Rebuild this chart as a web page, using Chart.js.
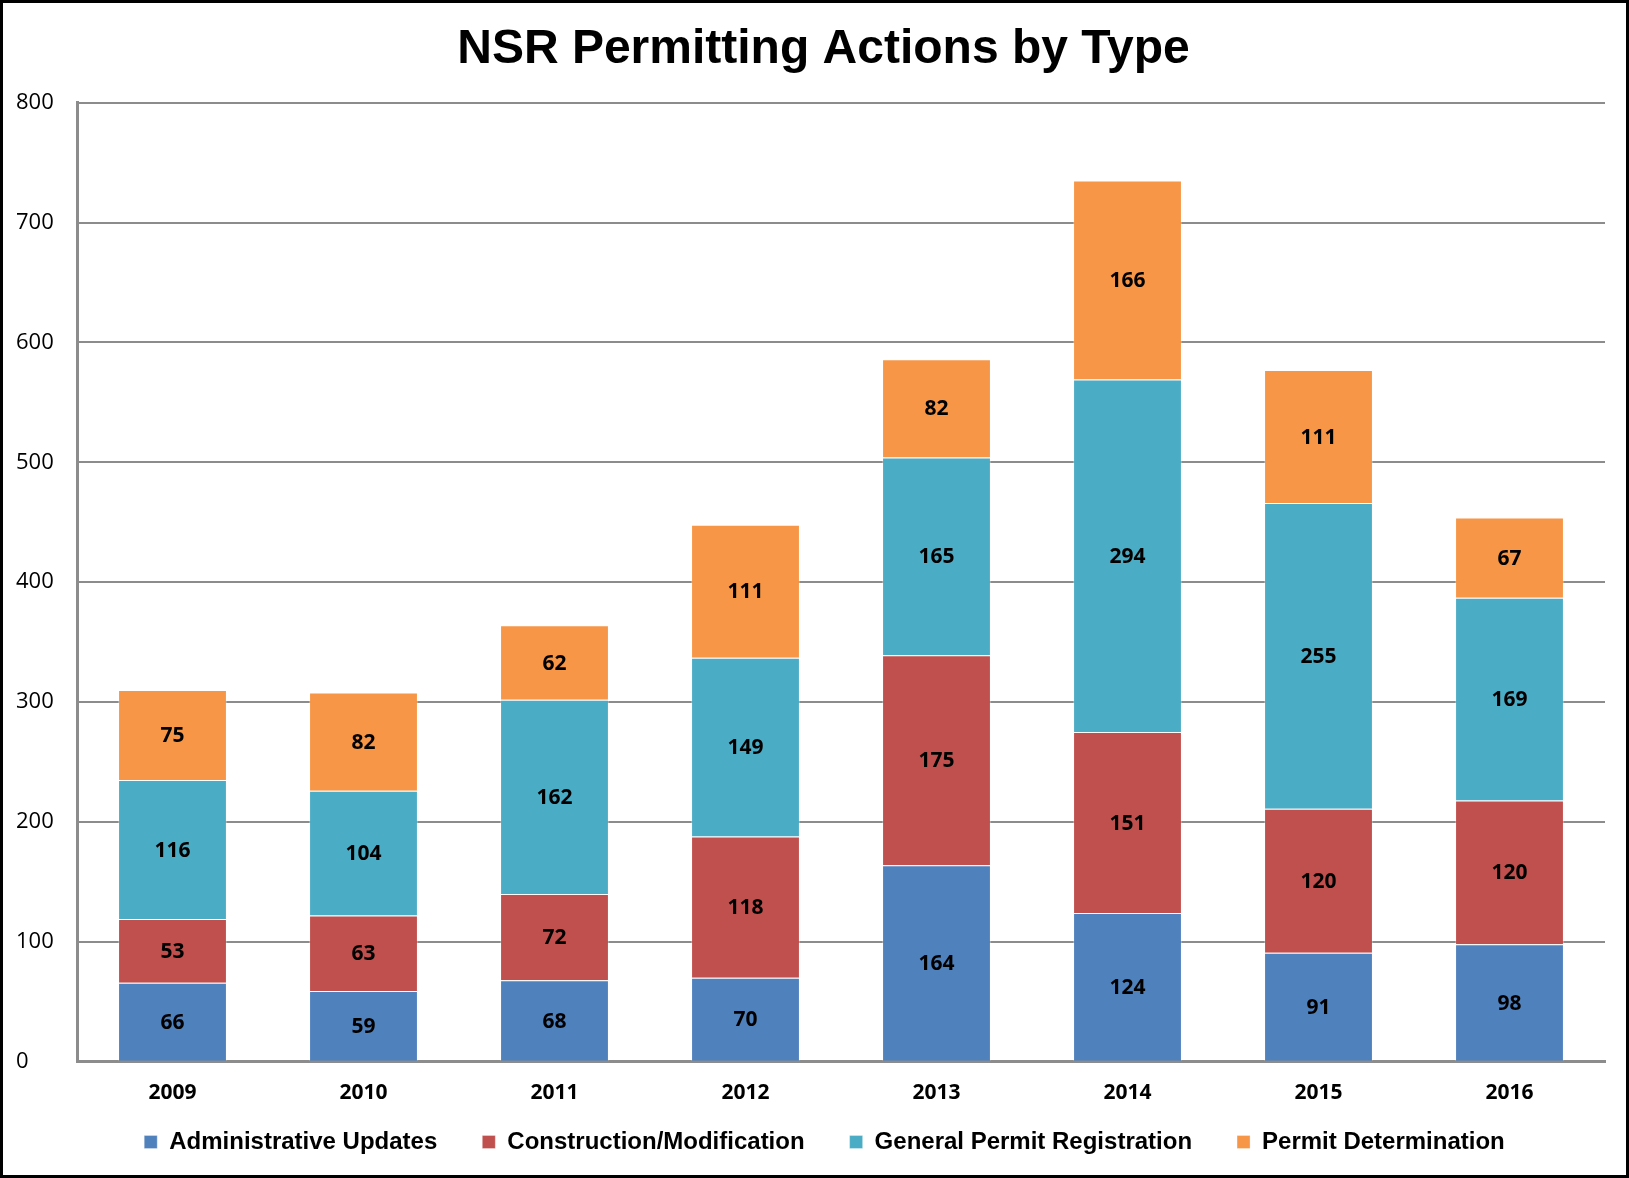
<!DOCTYPE html>
<html>
<head>
<meta charset="utf-8">
<script src="https://cdn.jsdelivr.net/npm/chart.js@4.4.0/dist/chart.umd.min.js"></script>
<style>
  html, body { margin: 0; padding: 0; background: #fff; }
  #frame { width: 1629px; height: 1178px; box-sizing: border-box; border: 3px solid #000; }
  #chart { display: block; }
</style>
</head>
<body>
<div id="frame"><canvas id="chart" width="1623" height="1172"></canvas></div>
<script>
const years = ['2009', '2010', '2011', '2012', '2013', '2014', '2015', '2016'];
const adminUpdates = [66, 59, 68, 70, 164, 124, 91, 98];
const construction = [53, 63, 72, 118, 175, 151, 120, 120];
const generalPermit = [116, 104, 162, 149, 165, 294, 255, 169];
const permitDetermination = [75, 82, 62, 111, 82, 166, 111, 67];
const yTicks = [0, 100, 200, 300, 400, 500, 600, 700, 800];

const gridGray = '#8c8c8c';

// value in the middle of every segment, title and legend nudged right a bit
const segmentLabels = {
  id: 'segmentLabels',
  afterLayout(chart) {
    if (chart.titleBlock) {
      chart.titleBlock.left += 13;
      chart.titleBlock.right += 13;
    }
    if (chart.legend) {
      chart.legend.left += 14;
      chart.legend.right += 14;
    }
  },
  afterDatasetsDraw(chart) {
    const ctx = chart.ctx;
    ctx.save();
    ctx.font = 'bold 21px "Open Sans", sans-serif';
    ctx.fillStyle = '#000';
    ctx.textAlign = 'center';
    ctx.textBaseline = 'middle';
    chart.data.datasets.forEach((ds, i) => {
      chart.getDatasetMeta(i).data.forEach((bar, j) => {
        const mid = (bar.y + bar.base) / 2;
        ctx.fillText(String(ds.data[j]), bar.x, mid + 1);
      });
    });
    ctx.restore();
  }
};

function series(label, data, color) {
  return {
    label,
    data,
    backgroundColor: color,
    borderColor: 'rgba(255,255,255,0.3)',
    borderWidth: 1,
    categoryPercentage: 1,
    barPercentage: 0.57
  };
}

new Chart(document.getElementById('chart'), {
  type: 'bar',
  data: {
    labels: years,
    datasets: [
      series('Administrative Updates', adminUpdates, '#4f81bd'),
      series('Construction/Modification', construction, '#c0504d'),
      series('General Permit Registration', generalPermit, '#4bacc6'),
      series('Permit Determination', permitDetermination, '#f79646')
    ]
  },
  options: {
    responsive: false,
    animation: false,
    layout: { padding: { left: 13, right: 21, top: 0, bottom: 11 } },
    plugins: {
      title: {
        display: true,
        text: 'NSR Permitting Actions by Type',
        color: '#000',
        font: { family: 'Arial, "Liberation Sans", sans-serif', size: 48, weight: 'bold', lineHeight: 1.2 },
        padding: { top: 18, bottom: 24 }
      },
      legend: {
        position: 'bottom',
        labels: {
          color: '#000',
          boxWidth: 13,
          boxHeight: 13,
          padding: 5,
          font: { family: 'Arial, "Liberation Sans", sans-serif', size: 24, weight: 'bold' },
          // extra room after the first three entries, the vertical padding stays small
          generateLabels(chart) {
            const items = Chart.defaults.plugins.legend.labels.generateLabels(chart);
            items.forEach((it, i) => { if (i < items.length - 1) it.text += '      '; });
            return items;
          }
        }
      },
      tooltip: { enabled: false }
    },
    scales: {
      x: {
        stacked: true,
        grid: { display: false, drawTicks: false },
        border: { display: true, color: gridGray, width: 3 },
        ticks: {
          color: '#000',
          padding: 19,
          font: { family: '"Open Sans", sans-serif', size: 21, weight: 'bold' }
        }
      },
      y: {
        stacked: true,
        min: 0,
        max: 800,
        afterBuildTicks(scale) { scale.ticks = yTicks.map(v => ({ value: v })); },
        afterFit(scale) { scale.width = 61; },
        grid: { color: gridGray, lineWidth: 2, drawTicks: false },
        border: { display: true, color: gridGray, width: 3 },
        ticks: {
          color: '#000',
          crossAlign: 'far',
          padding: 0,
          font: { family: '"Open Sans", sans-serif', size: 22 }
        }
      }
    }
  },
  plugins: [segmentLabels]
});
</script>
</body>
</html>
